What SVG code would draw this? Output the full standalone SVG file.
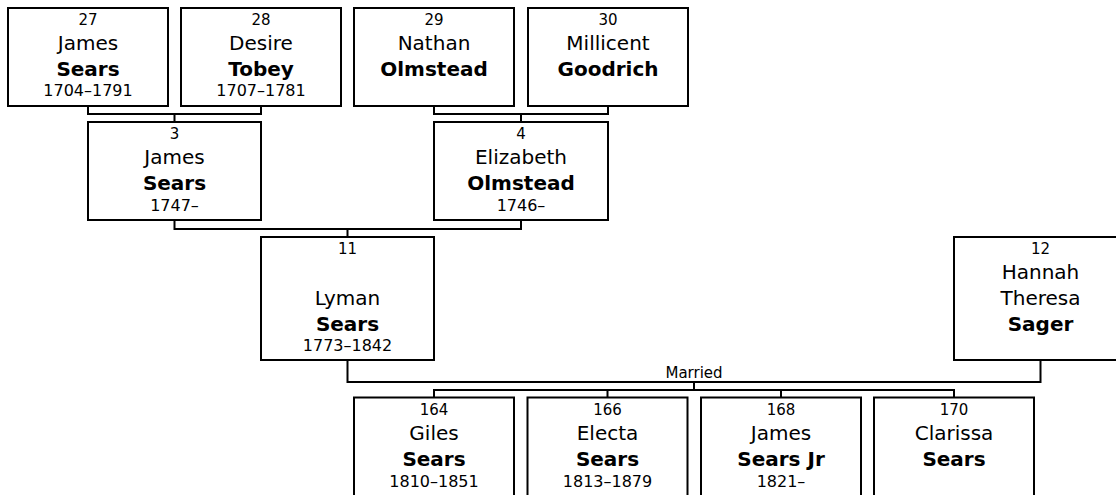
<svg xmlns="http://www.w3.org/2000/svg" width="1116" height="495" viewBox="0 0 1116 495">
<style>
.box{fill:#fff;stroke:#000;stroke-width:2}
.con{fill:none;stroke:#000;stroke-width:2}
text{font-family:"DejaVu Sans",Verdana,sans-serif;text-anchor:middle;fill:#000}
.n{font-size:15px}
.g{font-size:20px}
.s{font-size:20px;font-weight:bold}
.d{font-size:16px}
.m{font-size:15px}
</style>
<rect width="1116" height="495" fill="#fff"/>
<g id="connectors">
<path class="con" d="M88 106V114H261V106M174.5 114V122"/>
<path class="con" d="M434 106V114H608V106M521 114V122"/>
<path class="con" d="M174.5 220V229H521V220M347.5 229V237"/>
<path class="con" d="M347.5 360V382H1040.5V360"/>
<path class="con" d="M694 382V390M434 397.5V390H954V397.5M607.5 390V397.5M781 390V397.5"/>
<text class="m" x="694" y="378">Married</text>
</g>
<g id="p27">
<rect class="box" x="8" y="8" width="160" height="98"/>
<text class="n" x="88" y="25">27</text>
<text class="g" x="88" y="50">James</text>
<text class="s" x="88" y="76">Sears</text>
<text class="d" x="88" y="96">1704–1791</text>
</g>
<g id="p28">
<rect class="box" x="181" y="8" width="160" height="98"/>
<text class="n" x="261" y="25">28</text>
<text class="g" x="261" y="50">Desire</text>
<text class="s" x="261" y="76">Tobey</text>
<text class="d" x="261" y="96">1707–1781</text>
</g>
<g id="p29">
<rect class="box" x="354" y="8" width="160" height="98"/>
<text class="n" x="434" y="25">29</text>
<text class="g" x="434" y="50">Nathan</text>
<text class="s" x="434" y="76">Olmstead</text>
</g>
<g id="p30">
<rect class="box" x="528" y="8" width="160" height="98"/>
<text class="n" x="608" y="25">30</text>
<text class="g" x="608" y="50">Millicent</text>
<text class="s" x="608" y="76">Goodrich</text>
</g>
<g id="p3">
<rect class="box" x="88" y="122" width="173" height="98"/>
<text class="n" x="174.5" y="139">3</text>
<text class="g" x="174.5" y="164">James</text>
<text class="s" x="174.5" y="190">Sears</text>
<text class="d" x="174.5" y="211">1747–</text>
</g>
<g id="p4">
<rect class="box" x="434" y="122" width="174" height="98"/>
<text class="n" x="521" y="139">4</text>
<text class="g" x="521" y="164">Elizabeth</text>
<text class="s" x="521" y="190">Olmstead</text>
<text class="d" x="521" y="211">1746–</text>
</g>
<g id="p11">
<rect class="box" x="261" y="237" width="173" height="123"/>
<text class="n" x="347.5" y="254">11</text>
<text class="g" x="347.5" y="305">Lyman</text>
<text class="s" x="347.5" y="331">Sears</text>
<text class="d" x="347.5" y="351">1773–1842</text>
</g>
<g id="p12">
<rect class="box" x="954" y="237" width="173" height="123"/>
<text class="n" x="1040.5" y="254">12</text>
<text class="g" x="1040.5" y="279">Hannah</text>
<text class="g" x="1040.5" y="305">Theresa</text>
<text class="s" x="1040.5" y="331">Sager</text>
</g>
<g id="p164">
<rect class="box" x="354" y="397.5" width="160" height="120"/>
<text class="n" x="434" y="415">164</text>
<text class="g" x="434" y="440">Giles</text>
<text class="s" x="434" y="465.5">Sears</text>
<text class="d" x="434" y="487">1810–1851</text>
</g>
<g id="p166">
<rect class="box" x="527.5" y="397.5" width="160" height="120"/>
<text class="n" x="607.5" y="415">166</text>
<text class="g" x="607.5" y="440">Electa</text>
<text class="s" x="607.5" y="465.5">Sears</text>
<text class="d" x="607.5" y="487">1813–1879</text>
</g>
<g id="p168">
<rect class="box" x="701" y="397.5" width="160" height="120"/>
<text class="n" x="781" y="415">168</text>
<text class="g" x="781" y="440">James</text>
<text class="s" x="781" y="465.5">Sears Jr</text>
<text class="d" x="781" y="487">1821–</text>
</g>
<g id="p170">
<rect class="box" x="874" y="397.5" width="160" height="120"/>
<text class="n" x="954" y="415">170</text>
<text class="g" x="954" y="440">Clarissa</text>
<text class="s" x="954" y="465.5">Sears</text>
</g>
</svg>
